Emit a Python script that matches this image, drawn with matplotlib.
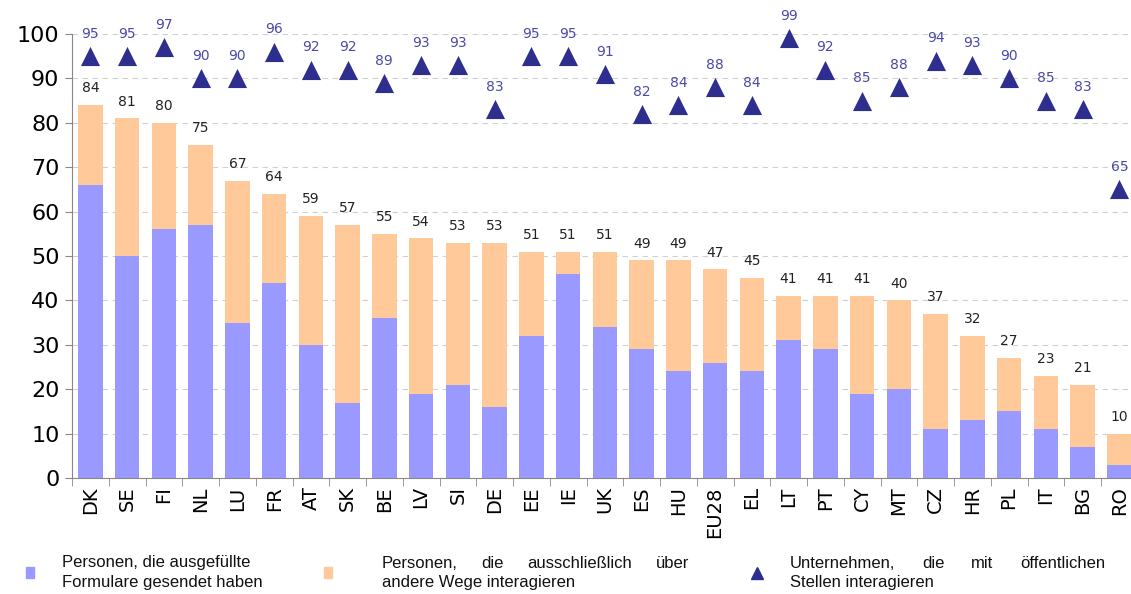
import numpy as np
import matplotlib
matplotlib.use("Agg")
from matplotlib import pyplot as plt
from matplotlib.patches import Rectangle
from matplotlib.lines import Line2D

countries = ["DK", "SE", "FI", "NL", "LU", "FR", "AT", "SK", "BE", "LV", "SI", "DE", "EE", "IE", "UK",
             "ES", "HU", "EU28", "EL", "LT", "PT", "CY", "MT", "CZ", "HR", "PL", "IT", "BG", "RO"]
forms_sent = [66, 50, 56, 57, 35, 44, 30, 17, 36, 19, 21, 16, 32, 46, 34,
              29, 24, 26, 24, 31, 29, 19, 20, 11, 13, 15, 11, 7, 3]
total_persons = [84, 81, 80, 75, 67, 64, 59, 57, 55, 54, 53, 53, 51, 51, 51,
                 49, 49, 47, 45, 41, 41, 41, 40, 37, 32, 27, 23, 21, 10]
enterprises = [95, 95, 97, 90, 90, 96, 92, 92, 89, 93, 93, 83, 95, 95, 91,
               82, 84, 88, 84, 99, 92, 85, 88, 94, 93, 90, 85, 83, 65]

legend_lines = [
    ["Personen, die ausgefüllte", "Formulare gesendet haben"],
    ["Personen, die ausschließlich über", "andere Wege interagieren"],
    ["Unternehmen, die mit öffentlichen", "Stellen interagieren"],
]

BLUE = "#9999ff"
PEACH = "#ffc999"
NAVY = "#2e2e8f"
LABEL_BLUE = "#4a4aa8"

other_ways = [t - f for t, f in zip(total_persons, forms_sent)]
x = np.arange(len(countries))

fig = plt.figure(figsize=(11.31, 5.94), dpi=100)
W, H = 1131, 594
ax = fig.add_axes([72 / W, (594 - 478) / H, 29 * 36.75 / W, 444 / H])

ax.bar(x, forms_sent, width=0.66, color=BLUE, zorder=2)
ax.bar(x, other_ways, bottom=forms_sent, width=0.66, color=PEACH, zorder=2)
ax.scatter(x, enterprises, marker="^", s=190, color=NAVY, zorder=3, clip_on=False, linewidths=0)

for i in range(len(countries)):
    ax.annotate(str(total_persons[i]), (x[i], total_persons[i]), xytext=(0, 7),
                textcoords="offset points", ha="center", va="bottom", fontsize=10, color="#222222")
    ax.annotate(str(enterprises[i]), (x[i], enterprises[i]), xytext=(0, 11),
                textcoords="offset points", ha="center", va="bottom", fontsize=10,
                color=LABEL_BLUE, annotation_clip=False)

ax.set_xlim(-0.5, len(countries) - 0.5)
ax.set_ylim(0, 100)
ax.set_yticks(range(0, 101, 10))
ax.tick_params(axis="y", labelsize=16, length=5, color="#888888", pad=4)
ax.set_xticks(x)
ax.set_xticklabels(countries, rotation=90, fontsize=14)
ax.tick_params(axis="x", length=0, pad=6)
ax.set_xticks(np.arange(-0.5, len(countries), 1), minor=True)
ax.tick_params(axis="x", which="minor", length=6, color="#888888")

ax.grid(axis="y", color="#d0d0d0", linestyle=(0, (5, 4)), linewidth=0.8, zorder=0)
for s in ["top", "right"]:
    ax.spines[s].set_visible(False)
for s in ["left", "bottom"]:
    ax.spines[s].set_color("#888888")

# legend drawn by hand, first line of each entry justified
lg_font = dict(family="Liberation Sans", fontsize=12, color="#111111")
entries = [(30, 62, 290), (328, 382, 689), (757, 790, 1105)]
renderer = fig.canvas.get_renderer()


def justified(words, x0, x1, y):
    objs = [fig.text(x0 / W, y, w, ha="left", va="center", **lg_font) for w in words]
    widths = [o.get_window_extent(renderer).width for o in objs]
    gap = (x1 - x0 - sum(widths)) / max(len(words) - 1, 1)
    pos = x0
    for o, w in zip(objs, widths):
        o.set_x(pos / W)
        pos += w + gap


for k, (mx, tx, tend) in enumerate(entries):
    y1 = 1 - 563 / H
    y2 = 1 - 583 / H
    if k == 0:
        fig.text(tx / W, y1, legend_lines[k][0], ha="left", va="center", **lg_font)
    else:
        justified(legend_lines[k][0].split(), tx, tend, y1)
    fig.text(tx / W, y2, legend_lines[k][1], ha="left", va="center", **lg_font)
    if k < 2:
        fig.patches.append(Rectangle(((mx - 4) / W, 1 - 578 / H), 8 / W, 11 / H,
                                     transform=fig.transFigure, color=[BLUE, PEACH][k]))
    else:
        fig.lines.append(Line2D([mx / W], [1 - 573 / H], marker="^", markersize=8, color=NAVY,
                                linewidth=0, transform=fig.transFigure))

fig.savefig("out.png", dpi=100)
